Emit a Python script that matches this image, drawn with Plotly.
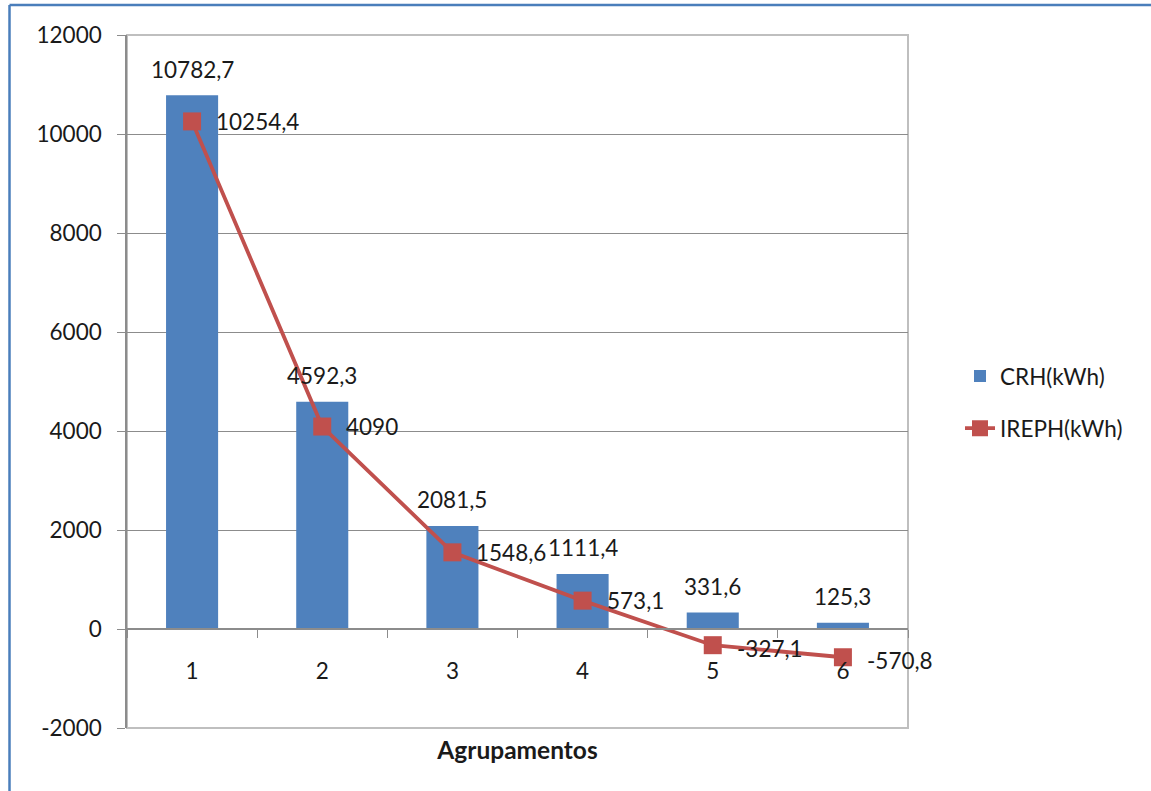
import plotly.graph_objects as go

# Energy per cluster (Agrupamentos)
categories = ["1", "2", "3", "4", "5", "6"]
crh_kwh = [10782.7, 4592.3, 2081.5, 1111.4, 331.6, 125.3]
ireph_kwh = [10254.4, 4090, 1548.6, 573.1, -327.1, -570.8]
y_ticks = [-2000, 0, 2000, 4000, 6000, 8000, 10000, 12000]

BLUE = "#4F81BD"
RED = "#C0504D"
GRID = "#8C8C8C"
FONT = "Lato"
FS = 22.5


def fmt(v):
    # decimal comma, integers without decimals
    if float(v).is_integer():
        return str(int(v))
    return f"{v:.1f}".replace(".", ",")


W, H = 1151, 791
L, R, T, B = 127, 243, 35, 63
pw, ph = W - L - R, H - T - B

fig = go.Figure()
fig.add_trace(go.Bar(
    x=categories, y=crh_kwh, name="CRH(kWh)",
    marker=dict(color=BLUE, line=dict(width=0)),
    legendgroup="a",
))
fig.add_trace(go.Scatter(
    x=categories, y=ireph_kwh, name="IREPH(kWh)", mode="lines+markers",
    line=dict(color=RED, width=3.8),
    marker=dict(symbol="square", size=18, color=RED),
    legendgroup="b",
))

annotations = []
for i, v in enumerate(crh_kwh):
    annotations.append(dict(x=i, y=v, text=fmt(v), showarrow=False,
                            xanchor="center", yanchor="middle", yshift=26,
                            font=dict(family=FONT, size=FS, color="#1a1a1a")))
for i, v in enumerate(ireph_kwh):
    annotations.append(dict(x=i, y=v, text=fmt(v), showarrow=False,
                            xanchor="left", yanchor="middle", xshift=22,
                            yshift=-3 if v < 0 else 0,
                            font=dict(family=FONT, size=FS, color="#1a1a1a")))

zero_pos = (0 - y_ticks[0]) / (y_ticks[-1] - y_ticks[0])

shapes = [
    # plot-area frame
    dict(type="rect", xref="paper", yref="paper", x0=0, x1=1, y0=0, y1=1,
         line=dict(color="#BFBFBF", width=2), layer="below"),
    # outer chart frame edges
    dict(type="line", xref="paper", yref="paper",
         x0=(9.5 - L) / pw, x1=(W + 5 - L) / pw,
         y0=1 + (T - 5) / ph, y1=1 + (T - 5) / ph,
         line=dict(color="#4A7EBB", width=2.5)),
    dict(type="line", xref="paper", yref="paper",
         x0=(9.5 - L) / pw, x1=(9.5 - L) / pw,
         y0=1 + (T - 5) / ph, y1=-(B + 5) / ph,
         line=dict(color="#4A7EBB", width=2.5)),
]

fig.update_layout(
    width=W, height=H,
    margin=dict(l=L, r=R, t=T, b=B, pad=0),
    paper_bgcolor="white", plot_bgcolor="white",
    font=dict(family=FONT, size=FS, color="#1a1a1a"),
    bargap=0.6,
    showlegend=True,
    legend=dict(x=(960 - L) / pw, y=0.47, xanchor="left", yanchor="middle",
                font=dict(family=FONT, size=FS), tracegroupgap=20,
                bgcolor="rgba(0,0,0,0)"),
    annotations=annotations,
    shapes=shapes,
    xaxis=dict(
        type="category", anchor="free", position=zero_pos,
        range=[-0.5, len(categories) - 0.5], autorange=False,
        showline=True, linecolor=GRID, linewidth=1.5,
        ticks="outside", tickson="boundaries", ticklen=8, tickcolor=GRID,
        ticklabelstandoff=22, showgrid=False,
        tickfont=dict(family=FONT, size=FS),
        title=dict(text="<b>Agrupamentos</b>", standoff=58,
                   font=dict(family=FONT, size=24.5)),
    ),
    yaxis=dict(
        range=[y_ticks[0], y_ticks[-1]], autorange=False,
        tickvals=y_ticks, ticktext=[str(t) for t in y_ticks],
        showline=True, linecolor=GRID, linewidth=1.5,
        ticks="outside", ticklen=8, tickcolor=GRID,
        showgrid=True, gridcolor=GRID, gridwidth=1.2,
        zeroline=False, ticklabelstandoff=11,
        tickfont=dict(family=FONT, size=FS),
    ),
)

fig.write_html("out.html")
